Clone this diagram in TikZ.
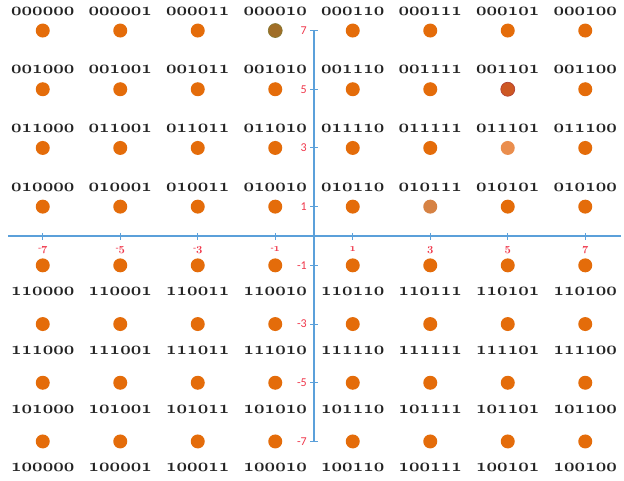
\documentclass[tikz,border=0pt]{standalone}
\usepackage{fontspec}
\newfontfamily\tickfont{Carlito}
\font\osbf=cmmib10 at 18.3pt
\font\osxt=cmmib10 at 11pt
\definecolor{dotorange}{RGB}{228,108,10}
\definecolor{axisblue}{RGB}{91,160,218}
\definecolor{ticktext}{RGB}{240,55,75}
\definecolor{labeltext}{RGB}{35,35,35}
\newcommand\osn[1]{{\osbf #1}}
\newcommand\xtk[2]{{\tickfont\fontsize{10}{10}\selectfont #1}{\osxt #2}}
\tikzset{
  dot/.style={circle,fill=dotorange,draw=none,minimum size=14pt,inner sep=0pt},
  bitlbl/.style={text=labeltext,inner sep=0pt,anchor=base},
  axisline/.style={draw=axisblue,line width=1.3pt},
  tickmark/.style={draw=axisblue,line width=1pt},
  xticklbl/.style={text=ticktext,inner sep=0pt,anchor=base},
  yticklbl/.style={text=ticktext,font=\tickfont\fontsize{12}{12}\selectfont,inner sep=0pt,anchor=east},
  d41/.style={fill={rgb,255:red,160;green,110;blue,40},draw={rgb,255:red,130;green,120;blue,50},line width=0.6pt},
  d72/.style={fill={rgb,255:red,205;green,88;blue,35},draw={rgb,255:red,175;green,60;blue,50},line width=0.6pt},
  d73/.style={fill={rgb,255:red,234;green,142;blue,78}},
  d64/.style={fill={rgb,255:red,214;green,130;blue,68}},
}
\begin{document}
\begin{tikzpicture}[x=1pt,y=-1pt]
\useasboundingbox[fill=white] (0,0) rectangle (624,481);
% axes
\coordinate (xl) at (8,236);
\coordinate (xr) at (621,236);
\coordinate (yt) at (314,30.5);
\coordinate (yb) at (314,441.5);
\draw[axisline] (xl) -- (xr);
\draw[axisline] (yt) -- (yb);
% grid of points
\foreach \kx/\sg/\mg/\cb [count=\i] in {-7/-/7/000,-5/-/5/001,-3/-/3/011,-1/-/1/010,1//1/110,3//3/111,5//5/101,7//7/100}{
  \pgfmathsetmacro{\px}{314+38.75*\kx}
  \coordinate (xt\i) at (\px,236);
  \draw[tickmark] ([yshift=-4pt]xt\i) -- ([yshift=3pt]xt\i);
  \node[xticklbl] (xtl\i) at (\px,251.5) {\xtk{\sg}{\mg}};
  \foreach \ky/\rb [count=\j] in {7/000,5/001,3/011,1/010,-1/110,-3/111,-5/101,-7/100}{
    \pgfmathsetmacro{\py}{236-29.35*\ky}
    \node[dot,d\i\j/.try] (p\i\j) at (\px,\py) {};
    \ifnum\ky>0
      \node[bitlbl] (l\i\j) at (\px,\py-15.5) {\osn{\rb\cb}};
    \else
      \node[bitlbl] (l\i\j) at (\px,\py+30.5) {\osn{\rb\cb}};
    \fi
  }
}
\foreach \ky [count=\j] in {7,5,3,1,-1,-3,-5,-7}{
  \pgfmathsetmacro{\py}{236-29.35*\ky}
  \coordinate (yt\j) at (314,\py);
  \draw[tickmark] ([xshift=-4pt]yt\j) -- ([xshift=4pt]yt\j);
  \node[yticklbl] (ytl\j) at (307,\py) {\ky};
}
\end{tikzpicture}
\end{document}
